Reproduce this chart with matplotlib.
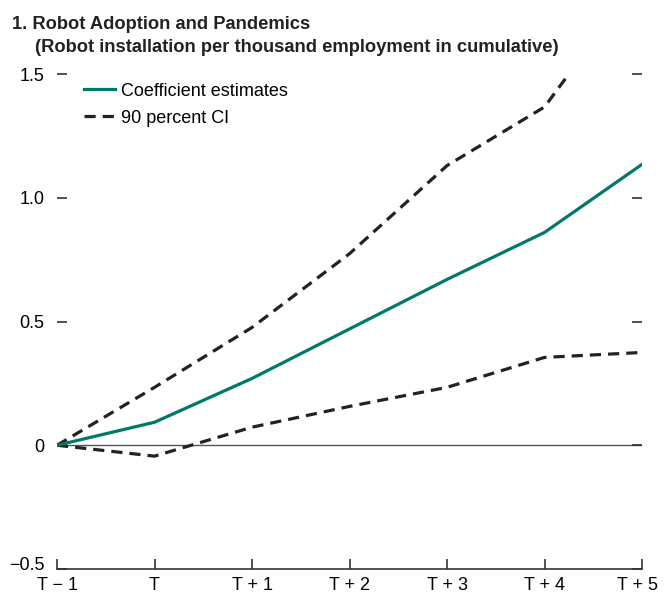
import matplotlib
matplotlib.use("Agg")
import matplotlib.pyplot as plt
from matplotlib import font_manager as fm
from matplotlib.transforms import ScaledTranslation

names = {f.name for f in fm.fontManager.ttflist}
fam = 'Liberation Sans Narrow' if 'Liberation Sans Narrow' in names else 'Liberation Sans'
plt.rcParams['font.family'] = [fam, 'DejaVu Sans']

categories = ["T \u2212 1", "T", "T + 1", "T + 2", "T + 3", "T + 4", "T + 5"]
coef = [0.0, 0.093, 0.27, 0.47, 0.67, 0.86, 1.135]
upper = [0.0, 0.234, 0.476, 0.774, 1.13, 1.367, 1.90]
lower = [0.0, -0.044, 0.073, 0.157, 0.234, 0.355, 0.375]
yticks = [-0.5, 0, 0.5, 1.0, 1.5]
ytick_labels = ["\u22120.5", "0", "0.5", "1.0", "1.5"]

fig = plt.figure(figsize=(6.66, 5.96), dpi=100)
ax = fig.add_axes([0.0856, 0.0453, 0.964 - 0.0856, 0.8758 - 0.0453])
x = list(range(len(categories)))
ax.axhline(0, color='#555555', lw=1.0, zorder=1)
ax.plot(x, coef, color='#00796B', lw=2.3, label='Coefficient estimates', zorder=3)
ax.plot(x, upper, color='#222222', lw=2.3, ls=(0, (3.5, 2.2)), label='90 percent CI', zorder=2)
ax.plot(x, lower, color='#222222', lw=2.3, ls=(0, (3.5, 2.2)), zorder=2)

ax.set_xlim(0, 6)
ax.set_ylim(-0.5, 1.5)
ax.set_xticks(x)
ax.set_xticklabels(categories, fontsize=13)
ax.set_yticks(yticks)
ax.set_yticklabels(ytick_labels, fontsize=13)
for s in ['top', 'left', 'right']:
    ax.spines[s].set_visible(False)
ax.spines['bottom'].set_color('#333333')
ax.spines['bottom'].set_linewidth(1.2)
ax.tick_params(axis='x', direction='in', length=7, width=1.2, color='#333333', pad=6)
ax.tick_params(axis='y', left=True, right=True, direction='in', length=7, width=1.2,
               color='#333333', pad=9, labelleft=True, labelright=False)
# lift the bottom y label a bit so it sits above the x labels
lbl = ax.get_yticklabels()[0]
lbl.set_transform(lbl.get_transform() + ScaledTranslation(0, 6 / 100, fig.dpi_scale_trans))
# keep the last x label inside the figure
xl = ax.get_xticklabels()[-1]
xl.set_transform(xl.get_transform() + ScaledTranslation(-5 / 100, 0, fig.dpi_scale_trans))

leg = ax.legend(loc='upper left', bbox_to_anchor=(0.033, 0.997), frameon=False, fontsize=13,
                handlelength=1.75, handletextpad=0.3, labelspacing=0.55, borderaxespad=0)

fig.text(0.018, 0.952, "1. Robot Adoption and Pandemics", fontsize=13.2, fontweight='bold',
         color='#222222', va='baseline')
fig.text(0.052, 0.912, "(Robot installation per thousand employment in cumulative)", fontsize=13.2,
         fontweight='bold', color='#222222', va='baseline')

fig.savefig("out.png", dpi=100)
